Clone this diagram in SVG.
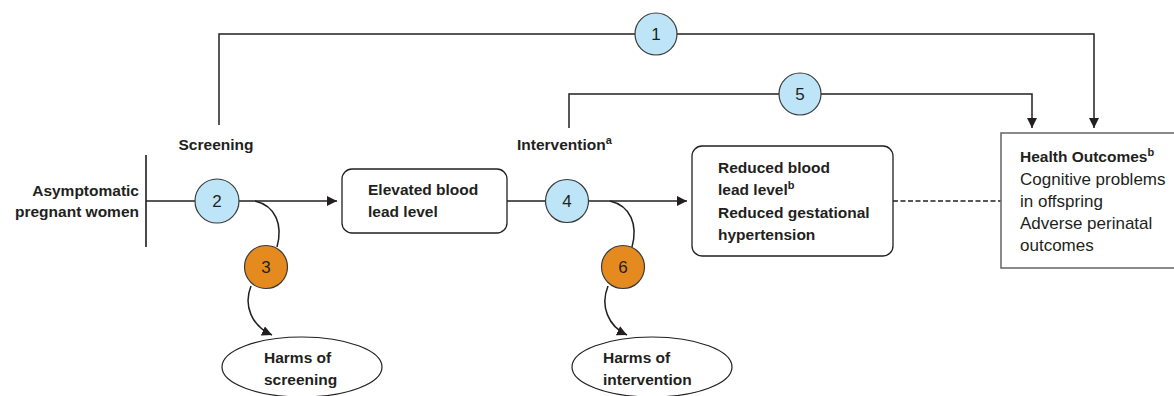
<svg xmlns="http://www.w3.org/2000/svg" width="1174" height="396" viewBox="0 0 1174 396">
<defs>
<marker id="arr" viewBox="0 0 10 10" refX="10" refY="5" markerWidth="10" markerHeight="10" markerUnits="userSpaceOnUse" orient="auto">
<path d="M0,0 L10,5 L0,10 z" fill="#231f20"/>
</marker>
</defs>
<style>
text{font-family:"Liberation Sans",Arial,sans-serif;fill:#231f20;font-size:15.5px}
.b{font-weight:bold}
.r{font-size:17px}
.sup{font-size:11px}
.line{stroke:#231f20;stroke-width:1.5;fill:none}
.blue{fill:#bde5f7;stroke:#3a3a3a;stroke-width:1.2}
.orange{fill:#e58a1f;stroke:#3a3a3a;stroke-width:1.2}
.num{font-size:17px;text-anchor:middle}
.box{fill:#fff;stroke:#231f20;stroke-width:1.3}
.c{text-anchor:middle}
</style>
<rect width="1174" height="396" fill="#fff"/>
<g id="connectors">
<path class="line" d="M219,125 V34 H1094 V128" marker-end="url(#arr)"/>
<path class="line" d="M569,128 V94 H1032 V128" marker-end="url(#arr)"/>
<path d="M146,155 V247" stroke="#4a4a4a" stroke-width="2" fill="none"/>
<path class="line" d="M146,201 H337" marker-end="url(#arr)"/>
<path class="line" d="M507,201 H687" marker-end="url(#arr)"/>
<path class="line" d="M893,201 H1001" stroke-dasharray="5,2.5"/>
<path class="line" d="M255,201 C276,206 283,225 277,247"/>
<path class="line" d="M251,286 C243,306 252,326 272,335" marker-end="url(#arr)"/>
<path class="line" d="M610,201 C631,206 638,225 632,247"/>
<path class="line" d="M608,286 C600,306 608,326 627,335" marker-end="url(#arr)"/>
</g>
<g id="label-screening"><text class="b c" x="216" y="150">Screening</text></g>
<g id="label-intervention"><text class="b" x="517" y="150">Intervention<tspan class="sup" dy="-6">a</tspan></text></g>
<g id="population">
<text class="b" x="139" y="196" text-anchor="end">Asymptomatic</text>
<text class="b" x="139" y="217" text-anchor="end">pregnant women</text>
</g>
<g id="elevated">
<rect class="box" x="342" y="169" width="165" height="64" rx="10"/>
<text class="b" x="368" y="195">Elevated blood</text>
<text class="b" x="368" y="217">lead level</text>
</g>
<g id="reduced">
<rect class="box" x="692" y="146" width="201" height="110" rx="10"/>
<text class="b" x="718" y="173">Reduced blood</text>
<text class="b" x="718" y="195">lead level<tspan class="sup" dy="-6">b</tspan></text>
<text class="b" x="718" y="218">Reduced gestational</text>
<text class="b" x="718" y="240">hypertension</text>
</g>
<g id="outcomes">
<rect x="1001" y="133" width="180" height="135" fill="#fff" stroke="#6d6d6d" stroke-width="1.6"/>
<text class="b" x="1020" y="162">Health Outcomes<tspan class="sup" dy="-6">b</tspan></text>
<text class="r" x="1020" y="185">Cognitive problems</text>
<text class="r" x="1020" y="207">in offspring</text>
<text class="r" x="1020" y="229">Adverse perinatal</text>
<text class="r" x="1020" y="251">outcomes</text>
</g>
<g id="harms-screening">
<ellipse cx="302" cy="367" rx="80" ry="30" fill="#fff" stroke="#231f20" stroke-width="1.2"/>
<text class="b" x="264" y="363">Harms of</text>
<text class="b" x="264" y="385">screening</text>
</g>
<g id="harms-intervention">
<ellipse cx="652" cy="367" rx="80" ry="30" fill="#fff" stroke="#231f20" stroke-width="1.2"/>
<text class="b" x="603" y="363">Harms of</text>
<text class="b" x="603" y="385">intervention</text>
</g>
<g id="kq1"><circle class="blue" cx="656" cy="34" r="21"/><text class="num" x="656" y="40">1</text></g>
<g id="kq2"><circle class="blue" cx="217" cy="201" r="22"/><text class="num" x="217" y="207">2</text></g>
<g id="kq3"><circle class="orange" cx="266" cy="267" r="21.5"/><text class="num" x="266" y="273">3</text></g>
<g id="kq4"><circle class="blue" cx="567" cy="201" r="21.5"/><text class="num" x="567" y="207">4</text></g>
<g id="kq5"><circle class="blue" cx="800" cy="94" r="21"/><text class="num" x="800" y="100">5</text></g>
<g id="kq6"><circle class="orange" cx="623" cy="267" r="21.5"/><text class="num" x="623" y="273">6</text></g>
</svg>
